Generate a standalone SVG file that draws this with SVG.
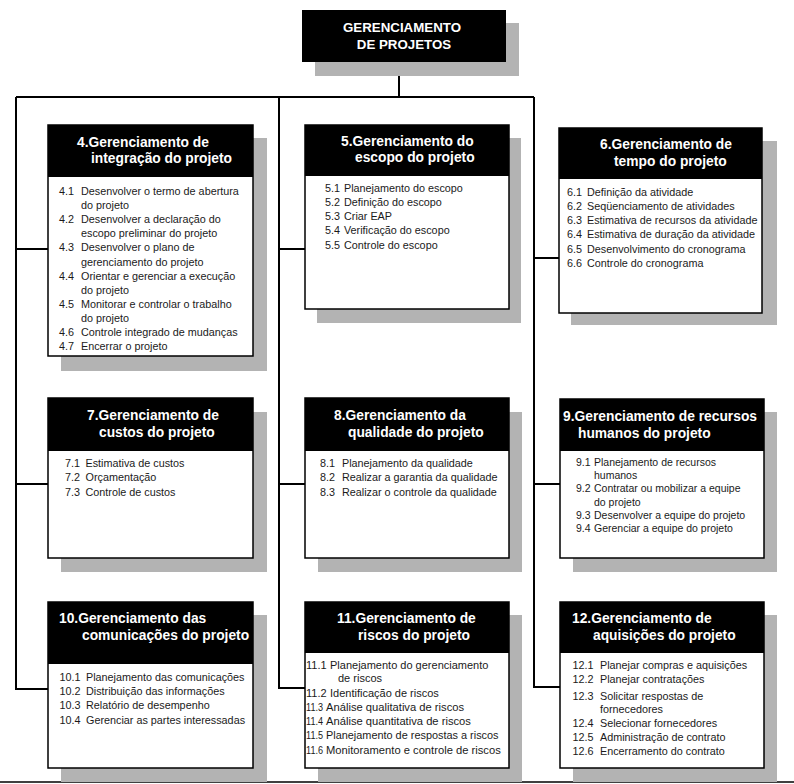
<svg xmlns="http://www.w3.org/2000/svg" width="794" height="784" viewBox="0 0 794 784">
<style>
.sh{fill:#b3b3b3}
.bx{fill:#fff;stroke:#000;stroke-width:1.5}
.hd{fill:#000}
.t{font-family:"Liberation Sans",Arial,sans-serif;font-weight:bold;font-size:13.8px;fill:#fff}
.tt{font-family:"Liberation Sans",Arial,sans-serif;font-weight:bold;font-size:13.3px;fill:#fff;text-anchor:middle}
.b{font-family:"Liberation Sans",Arial,sans-serif;font-size:10.8px;fill:#1a1a1a}
.c{fill:none;stroke:#000;stroke-width:2}
</style>
<rect x="0" y="0" width="794" height="784" fill="#fff"/>

<g id="connectors">
<path class="c" d="M399 62V97M16 97H534"/>
<path class="c" d="M16 97V689H48M16 249H48M16 484H48"/>
<path class="c" d="M279 97V688H305M279 249H305M279 484H305"/>
<path class="c" d="M534 97V687H560M534 258H559M534 484H560"/>
<path d="M0 782H794" stroke="#000" stroke-width="1.6"/>
</g>

<g id="root">
<rect class="sh" x="315" y="23" width="204" height="53"/>
<rect class="hd" x="302" y="10" width="204" height="52"/>
<text class="tt" x="402" y="32">GERENCIAMENTO</text>
<text class="tt" x="404" y="49">DE PROJETOS</text>
</g>

<g id="n4">
<rect class="sh" x="61" y="138" width="206" height="233"/>
<rect class="bx" x="48" y="125" width="205" height="231"/>
<rect class="hd" x="48" y="125" width="205" height="52"/>
<text class="t" x="77" y="146.5">4.Gerenciamento de</text>
<text class="t" x="91" y="162.5">integração do projeto</text>
<g class="b">
<text x="59" y="195">4.1</text><text x="81" y="195">Desenvolver o termo de abertura</text>
<text x="81" y="209.1">do projeto</text>
<text x="59" y="223.2">4.2</text><text x="81" y="223.2">Desenvolver a declaração do</text>
<text x="81" y="237.3">escopo preliminar do projeto</text>
<text x="59" y="251.4">4.3</text><text x="81" y="251.4">Desenvolver o plano de</text>
<text x="81" y="265.5">gerenciamento do projeto</text>
<text x="59" y="279.6">4.4</text><text x="81" y="279.6">Orientar e gerenciar a execução</text>
<text x="81" y="293.7">do projeto</text>
<text x="59" y="307.8">4.5</text><text x="81" y="307.8">Monitorar e controlar o trabalho</text>
<text x="81" y="321.9">do projeto</text>
<text x="59" y="336">4.6</text><text x="81" y="336">Controle integrado de mudanças</text>
<text x="59" y="350.1">4.7</text><text x="81" y="350.1">Encerrar o projeto</text>
</g>
</g>

<g id="n5">
<rect class="sh" x="317" y="138" width="204" height="185"/>
<rect class="bx" x="305" y="125" width="204" height="184"/>
<rect class="hd" x="305" y="125" width="204" height="51"/>
<text class="t" x="341" y="145.5">5.Gerenciamento do</text>
<text class="t" x="355" y="162">escopo do projeto</text>
<g class="b">
<text x="325" y="191.5">5.1</text><text x="344" y="191.5">Planejamento do escopo</text>
<text x="325" y="205.8">5.2</text><text x="344" y="205.8">Definição do escopo</text>
<text x="325" y="220.1">5.3</text><text x="344" y="220.1">Criar EAP</text>
<text x="325" y="234.4">5.4</text><text x="344" y="234.4">Verificação do escopo</text>
<text x="325" y="248.7">5.5</text><text x="344" y="248.7">Controle do escopo</text>
</g>
</g>

<g id="n6">
<rect class="sh" x="571" y="141" width="206" height="184"/>
<rect class="bx" x="559" y="128" width="203" height="185"/>
<rect class="hd" x="559" y="128" width="203" height="51"/>
<text class="t" x="600" y="148.5">6.Gerenciamento de</text>
<text class="t" x="614" y="165.7">tempo do projeto</text>
<g class="b">
<text x="567" y="195.5">6.1</text><text x="587" y="195.5">Definição da atividade</text>
<text x="567" y="209.8">6.2</text><text x="587" y="209.8">Seqüenciamento de atividades</text>
<text x="567" y="224.1">6.3</text><text x="587" y="224.1">Estimativa de recursos da atividade</text>
<text x="567" y="238.4">6.4</text><text x="587" y="238.4">Estimativa de duração da atividade</text>
<text x="567" y="252.7">6.5</text><text x="587" y="252.7">Desenvolvimento do cronograma</text>
<text x="567" y="267">6.6</text><text x="587" y="267">Controle do cronograma</text>
</g>
</g>

<g id="n7">
<rect class="sh" x="61" y="412" width="206" height="160"/>
<rect class="bx" x="48" y="398" width="205" height="160"/>
<rect class="hd" x="48" y="398" width="205" height="53"/>
<text class="t" x="87" y="419.5">7.Gerenciamento de</text>
<text class="t" x="99" y="437">custos do projeto</text>
<g class="b">
<text x="65" y="467">7.1</text><text x="85.5" y="467">Estimativa de custos</text>
<text x="65" y="481.3">7.2</text><text x="85.5" y="481.3">Orçamentação</text>
<text x="65" y="495.6">7.3</text><text x="85.5" y="495.6">Controle de custos</text>
</g>
</g>

<g id="n8">
<rect class="sh" x="318" y="412" width="204" height="160"/>
<rect class="bx" x="305" y="398" width="204" height="160"/>
<rect class="hd" x="305" y="398" width="204" height="53"/>
<text class="t" x="334" y="419.5">8.Gerenciamento da</text>
<text class="t" x="348" y="437">qualidade do projeto</text>
<g class="b">
<text x="320" y="467">8.1</text><text x="342" y="467">Planejamento da qualidade</text>
<text x="320" y="481.3">8.2</text><text x="342" y="481.3">Realizar a garantia da qualidade</text>
<text x="320" y="495.6">8.3</text><text x="342" y="495.6">Realizar o controle da qualidade</text>
</g>
</g>

<g id="n9">
<rect class="sh" x="573" y="412" width="204" height="160"/>
<rect class="bx" x="560" y="399" width="204" height="159"/>
<rect class="hd" x="560" y="399" width="204" height="52"/>
<text class="t" x="563" y="420.5">9.Gerenciamento de recursos</text>
<text class="t" x="578" y="437.7">humanos do projeto</text>
<g class="b" style="font-size:10.5px">
<text x="576" y="466">9.1</text><text x="594" y="466">Planejamento de recursos</text>
<text x="594" y="479.2">humanos</text>
<text x="576" y="492.4">9.2</text><text x="594" y="492.4">Contratar ou mobilizar a equipe</text>
<text x="594" y="505.6">do projeto</text>
<text x="576" y="518.8">9.3</text><text x="594" y="518.8">Desenvolver a equipe do projeto</text>
<text x="576" y="532">9.4</text><text x="594" y="532">Gerenciar a equipe do projeto</text>
</g>
</g>

<g id="n10">
<rect class="sh" x="61" y="615" width="206" height="167"/>
<rect class="bx" x="48" y="602" width="205" height="166"/>
<rect class="hd" x="48" y="602" width="205" height="62"/>
<text class="t" x="59" y="622.5">10.Gerenciamento das</text>
<text class="t" x="82" y="640">comunicações do projeto</text>
<g class="b">
<text x="59.5" y="680.5">10.1</text><text x="86" y="680.5">Planejamento das comunicações</text>
<text x="59.5" y="694.9">10.2</text><text x="86" y="694.9">Distribuição das informações</text>
<text x="59.5" y="709.3">10.3</text><text x="86" y="709.3">Relatório de desempenho</text>
<text x="59.5" y="723.7">10.4</text><text x="86" y="723.7">Gerenciar as partes interessadas</text>
</g>
</g>

<g id="n11">
<rect class="sh" x="318" y="615" width="204" height="167"/>
<rect class="bx" x="305" y="602" width="204" height="166"/>
<rect class="hd" x="305" y="602" width="204" height="51"/>
<text class="t" x="337" y="623">11.Gerenciamento de</text>
<text class="t" x="358" y="640">riscos do projeto</text>
<g class="b" style="font-size:11px">
<text x="306" y="669">11.1</text><text x="330" y="669">Planejamento do gerenciamento</text>
<text x="338" y="682">de riscos</text>
<text x="306" y="696.5">11.2</text><text x="330" y="696.5">Identificação de riscos</text>
<text x="306" y="710.8" textLength="17" lengthAdjust="spacingAndGlyphs">11.3</text><text x="326" y="710.8" style="font-size:11.2px">Análise qualitativa de riscos</text>
<text x="306" y="725" textLength="17" lengthAdjust="spacingAndGlyphs">11.4</text><text x="326" y="725" style="font-size:11.2px">Análise quantitativa de riscos</text>
<text x="306" y="739.3" textLength="17" lengthAdjust="spacingAndGlyphs">11.5</text><text x="326" y="739.3" style="font-size:10.9px">Planejamento de respostas a riscos</text>
<text x="306" y="753.6" textLength="17" lengthAdjust="spacingAndGlyphs">11.6</text><text x="326" y="753.6" style="font-size:11.2px">Monitoramento e controle de riscos</text>
</g>
</g>

<g id="n12">
<rect class="sh" x="573" y="615" width="204" height="167"/>
<rect class="bx" x="560" y="602" width="204" height="166"/>
<rect class="hd" x="560" y="602" width="204" height="51"/>
<text class="t" x="572" y="622.5">12.Gerenciamento de</text>
<text class="t" x="593" y="640">aquisições do projeto</text>
<g class="b">
<text x="572.5" y="669">12.1</text><text x="600" y="669">Planejar compras e aquisições</text>
<text x="572.5" y="683">12.2</text><text x="600" y="683">Planejar contratações</text>
<text x="572.5" y="699.5">12.3</text><text x="600" y="699.5">Solicitar respostas de</text>
<text x="600" y="713">fornecedores</text>
<text x="572.5" y="726.5">12.4</text><text x="600" y="726.5">Selecionar fornecedores</text>
<text x="572.5" y="741">12.5</text><text x="600" y="741">Administração de contrato</text>
<text x="572.5" y="755">12.6</text><text x="600" y="755">Encerramento do contrato</text>
</g>
</g>
</svg>
